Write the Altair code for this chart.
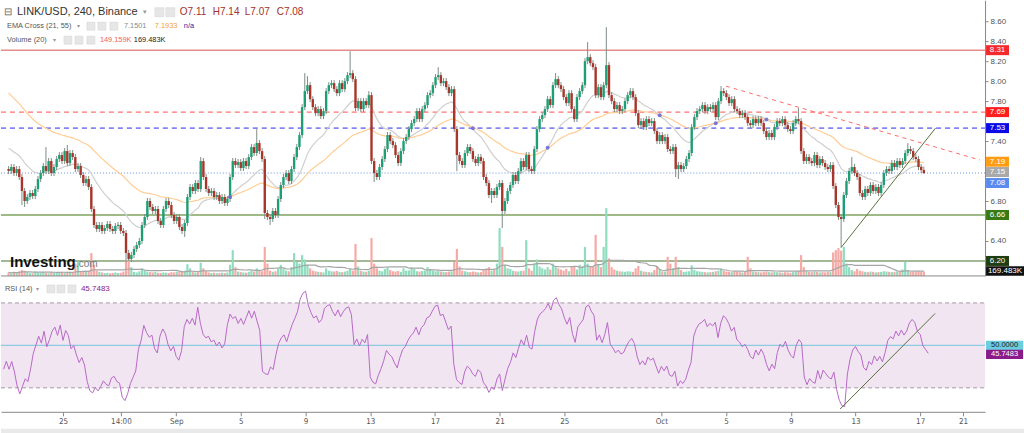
import altair as alt
import pandas as pd

# ---------------- data ----------------
closes = [
 7.10, 7.14, 7.08, 7.12, 7.04, 6.90, 6.80, 6.84, 6.88, 6.85,
 6.92, 7.02, 7.08, 7.15, 7.10, 7.20, 7.08, 7.14, 7.22, 7.26,
 7.20, 7.30, 7.18, 7.28, 7.24, 7.12, 7.15, 7.06, 6.98, 7.02,
 6.94, 6.72, 6.56, 6.52, 6.56, 6.50, 6.53, 6.57, 6.52, 6.50,
 6.55, 6.56, 6.50, 6.48, 6.28, 6.22, 6.26, 6.32, 6.36, 6.40,
 6.56, 6.64, 6.80, 6.74, 6.70, 6.72, 6.60, 6.56, 6.72, 6.80,
 6.76, 6.66, 6.60, 6.64, 6.54, 6.50, 6.58, 6.84, 6.94, 6.90,
 6.98, 6.92, 7.20, 7.04, 6.92, 6.88, 6.90, 6.84, 6.86, 6.80,
 6.84, 6.78, 6.82, 7.04, 7.20, 7.16, 7.19, 7.13, 7.20, 7.15,
 7.24, 7.34, 7.28, 7.38, 7.30, 7.22, 6.68, 6.64, 6.62, 6.70,
 6.66, 6.82, 6.96, 7.04, 7.08, 7.00, 7.12, 7.24, 7.34, 7.46,
 7.74, 7.90, 7.96, 7.82, 7.74, 7.68, 7.72, 7.65, 7.70, 7.90,
 7.96, 7.98, 7.92, 7.88, 7.98, 7.92, 8.00, 8.06, 8.08, 8.02,
 7.73, 7.80, 7.72, 7.80, 7.76, 7.86, 7.20, 7.08, 7.04, 7.14,
 7.22, 7.32, 7.46, 7.40, 7.36, 7.26, 7.18, 7.30, 7.40, 7.44,
 7.52, 7.58, 7.62, 7.70, 7.62, 7.72, 7.76, 7.86, 7.88, 7.96,
 8.04, 8.06, 7.98, 8.00, 7.94, 7.88, 7.92, 7.52, 7.26, 7.20,
 7.16, 7.28, 7.34, 7.30, 7.22, 7.18, 7.24, 7.20, 7.04, 6.98,
 6.86, 6.90, 6.86, 6.94, 6.98, 6.70, 6.80, 6.90, 6.96, 7.06,
 7.00, 7.10, 7.20, 7.14, 7.26, 7.12, 7.10, 7.32, 7.52, 7.62,
 7.66, 7.72, 7.82, 7.76, 7.96, 8.02, 7.96, 7.92, 7.84, 7.78,
 7.88, 7.72, 7.62, 7.84, 7.90, 7.96, 8.20, 8.24, 8.18, 8.14,
 7.86, 7.94, 7.84, 7.96, 8.16, 7.86, 7.80, 7.72, 7.76, 7.70,
 7.72, 7.80, 7.86, 7.90, 7.84, 7.68, 7.56, 7.60, 7.54, 7.62,
 7.58, 7.60, 7.50, 7.40, 7.46, 7.40, 7.44, 7.32, 7.30, 7.34,
 7.12, 7.16, 7.12, 7.15, 7.22, 7.28, 7.54, 7.64, 7.70, 7.72,
 7.76, 7.70, 7.74, 7.72, 7.76, 7.64, 7.80, 7.90, 7.88, 7.84,
 7.78, 7.82, 7.72, 7.70, 7.66, 7.68, 7.64, 7.58, 7.56, 7.62,
 7.58, 7.62, 7.58, 7.50, 7.44, 7.48, 7.44, 7.54, 7.60, 7.58,
 7.62, 7.56, 7.52, 7.50, 7.58, 7.62, 7.60, 7.30, 7.20, 7.24,
 7.20, 7.18, 7.26, 7.16, 7.22, 7.18, 7.14, 7.12, 7.16, 6.95,
 6.76, 6.64, 6.62, 6.86, 7.00, 7.10, 7.14, 7.08, 7.04, 6.88,
 6.84, 6.92, 6.88, 6.96, 6.90, 6.94, 6.88, 6.96, 7.08, 7.12,
 7.10, 7.18, 7.14, 7.20, 7.16, 7.20, 7.28, 7.32, 7.30, 7.24,
 7.22, 7.14, 7.11, 7.08,
]
first_open = 7.12

# notable wick extremes (candle index -> price)
wick_highs = {14: 7.34, 22: 7.36, 72: 7.24, 93: 7.52, 111: 8.08, 112: 8.05, 128: 8.30,
              135: 7.90, 161: 8.14, 205: 8.08, 217: 8.39, 224: 8.54, 267: 7.95, 296: 7.73,
              316: 7.24, 337: 7.38, 343: 7.14}
wick_lows = {5: 6.76, 6: 6.74, 44: 6.19, 45: 6.20, 66: 6.44, 96: 6.62, 98: 6.56, 137: 6.99,
             168: 7.10, 181: 6.78, 185: 6.53, 250: 7.04, 251: 7.02, 312: 6.33, 343: 7.07}
wick_default = 0.03

volumes = [  # thousands
 120, 90, 140, 110, 160, 200, 180, 130, 100, 90, 150, 120, 110, 140, 100, 90, 130, 110, 100, 120,
 140, 110, 100, 130, 120, 420, 470, 150, 160, 180, 170, 780, 380, 180, 140, 120, 100, 110, 90, 100,
 120, 100, 110, 150, 540, 560, 300, 140, 120, 160, 260, 180, 150, 130, 120, 140, 110, 100, 120, 110,
 100, 130, 120, 150, 140, 160, 180, 400, 260, 150, 120, 140, 450, 260, 160, 120, 100, 110, 90, 100,
 110, 100, 120, 380, 880, 300, 150, 130, 120, 110, 140, 180, 150, 260, 200, 160, 990, 420, 180, 140,
 160, 260, 380, 260, 180, 160, 300, 780, 480, 420, 710, 560, 380, 260, 180, 160, 140, 130, 120, 260,
 180, 160, 150, 170, 140, 130, 150, 180, 240, 180, 1090, 320, 180, 150, 140, 180, 1290, 420, 260, 180,
 160, 240, 300, 200, 160, 150, 170, 140, 260, 180, 190, 300, 240, 160, 150, 170, 180, 300, 240, 180,
 160, 170, 150, 140, 130, 150, 160, 480, 920, 320, 180, 160, 140, 130, 150, 140, 120, 130, 200, 260,
 300, 180, 240, 420, 1630, 990, 380, 260, 240, 180, 160, 150, 170, 180, 1220, 260, 180, 420, 560, 320,
 260, 220, 300, 220, 420, 320, 260, 220, 180, 240, 160, 300, 340, 220, 380, 320, 990, 420, 320, 300,
 1400, 380, 300, 990, 2310, 600, 300, 220, 180, 160, 150, 140, 160, 150, 140, 260, 340, 180, 150, 140,
 130, 120, 200, 340, 240, 160, 150, 650, 420, 260, 650, 300, 200, 140, 150, 160, 360, 200, 160, 150,
 140, 130, 120, 130, 140, 160, 180, 260, 170, 150, 140, 130, 150, 140, 130, 120, 140, 650, 260, 150,
 140, 130, 120, 140, 150, 130, 120, 140, 130, 120, 110, 130, 120, 110, 130, 150, 180, 710, 300, 160,
 140, 130, 150, 140, 120, 130, 120, 140, 130, 800, 880, 950, 860, 990, 420, 300, 200, 160, 240, 180,
 160, 140, 130, 150, 140, 120, 130, 140, 160, 150, 140, 130, 140, 150, 160, 220, 480, 200, 150, 140,
 130, 150, 140, 149,
]

# indicator seeds (values at the left edge)
ema21_seed, ema55_seed = 7.35, 7.91
rsi_gain_seed, rsi_loss_seed = 0.020, 0.030

# horizontal levels
level_solid_red = 8.31
level_dash_red = 7.69
level_dash_blue = 7.53
level_last = 7.08
level_green_hi = 6.66
level_green_lo = 6.20
ema_last = [7.1501, 7.1933]
vol_ma_last = 169.483

# trend lines (day offset from Aug 21 00:00, value)
trend_red = [(45.14, 7.95), (61.01, 7.21)]
trend_green = [(52.36, 6.34), (58.23, 7.53)]
trend_rsi = [(52.05, 20.0), (57.92, 65.0)]

tick_days = [4, 7.5833, 11, 15, 19, 23, 27, 31, 35, 41, 45, 49, 53, 57, 59.65]
tick_labels = ['25', '14:00', 'Sep', '5', '9', '13', '17', '21', '25', 'Oct', '5', '9', '13', '17', '21']
price_ticks = [8.6, 8.4, 8.2, 8.0, 7.8, 7.4, 6.8, 6.4]
rsi_ticks = [70, 60, 40, 30, 20]

# ---------------- derived ----------------
N = len(closes)
opens = [first_open] + closes[:-1]
t_last = 57.5
rows = []
e21, e55 = ema21_seed, ema55_seed
g, l = rsi_gain_seed, rsi_loss_seed
prev = first_open
for i in range(N):
    o, c = opens[i], closes[i]
    hi = wick_highs.get(i, max(o, c) + wick_default)
    lo = wick_lows.get(i, min(o, c) - wick_default)
    e21 += (2 / 22) * (c - e21)
    e55 += (2 / 56) * (c - e55)
    ch = c - prev
    g = (g * 13 + max(ch, 0)) / 14
    l = (l * 13 + max(-ch, 0)) / 14
    prev = c
    rsi = 100 - 100 / (1 + g / l) if l > 0 else 100
    rows.append(dict(t=t_last - (N - 1 - i) / 6, o=o, c=c, h=hi, l=lo,
                     blo=min(o, c), bhi=max(max(o, c), min(o, c) + 0.012),
                     up=c >= o, vol=volumes[i], e21=e21, e55=e55, rsi=rsi))
df = pd.DataFrame(rows)
df['volma'] = df['vol'].rolling(20, min_periods=1).mean()
d = df['e21'] - df['e55']
cross = df[(d * d.shift(1)) < 0].copy()
cross['m'] = (cross['e21'] + cross['e55']) / 2

FONT = 'Arial, Liberation Sans, sans-serif'
NARROW = 'Liberation Sans Narrow, DejaVu Sans Condensed, Arial, sans-serif'
W, HP, HR = 985, 276, 131
GREEN, RED = '#1e9e74', '#a8352b'
ONE = pd.DataFrame({'k': [0]})

xs = alt.Scale(domain=[0.17, 61.01], nice=False, zero=False)
ys = alt.Scale(domain=[6.05, 8.81], nice=False, zero=False)
vs = alt.Scale(domain=[0, 9400], nice=False, zero=True)
rs = alt.Scale(domain=[18.7, 80.35], nice=False, zero=False)

label_expr = ' : '.join(f"abs(datum.value - {v}) < 0.01 ? '{s}'" for v, s in zip(tick_days, tick_labels)) + " : ''"
x_axis = alt.Axis(values=tick_days, labelExpr=label_expr, labelFontSize=8, labelColor='#555',
                  labelFont=NARROW, tickSize=4, tickColor='#888', domainColor='#888', grid=False,
                  title=None, labelPadding=2, labelFlush=False, labelOverlap=False)
X = alt.X('t:Q', scale=xs, axis=None)
XR = alt.X('t:Q', scale=xs, axis=x_axis)


def txt(s, x, y, size=8, color='#555', weight='normal', font=FONT):
    return alt.Chart(ONE).mark_text(text=s, align='left', baseline='middle', fontSize=size,
                                    color=color, fontWeight=weight, font=font).encode(
        x=alt.value(x), y=alt.value(y))


def box(x, y, w=8, h=8):
    return alt.Chart(ONE).mark_rect(color='#e6e6e6', stroke='#d2d2d2', strokeWidth=0.5).encode(
        x=alt.value(x), x2=alt.value(x + w), y=alt.value(y - h / 2), y2=alt.value(y + h / 2))


def hline(v, color, scale, dash=None, width=1):
    kw = dict(color=color, strokeWidth=width)
    if dash:
        kw['strokeDash'] = dash
    return alt.Chart(pd.DataFrame({'v': [v]})).mark_rule(**kw).encode(
        y=alt.Y('v:Q', scale=scale, axis=None), x=alt.value(0), x2=alt.value(W))


def badge(v, label, fill, tcolor, scale, half, x1, x2, fs=8, dy=0):
    b = alt.Chart(pd.DataFrame({'v': [v]})).transform_calculate(
        a=f'datum.v + {half}', b=f'datum.v - {half}')
    r = b.mark_rect(color=fill, yOffset=dy, y2Offset=dy).encode(
        x=alt.value(x1), x2=alt.value(x2), y=alt.Y('a:Q', scale=scale, axis=None), y2='b:Q')
    t = b.mark_text(color=tcolor, fontSize=fs, align='center', baseline='middle', font=FONT, dy=dy).encode(
        x=alt.value((x1 + x2) / 2), y=alt.Y('v:Q', scale=scale, axis=None), text=alt.value(label))
    return [r, t]


def seg(points, color, scale, xenc, dash=None, width=1):
    kw = dict(color=color, strokeWidth=width)
    if dash:
        kw['strokeDash'] = dash
    pdf = pd.DataFrame({'t': [p[0] for p in points], 'v': [p[1] for p in points]})
    return alt.Chart(pdf).mark_line(**kw).encode(x=xenc, y=alt.Y('v:Q', scale=scale, axis=None))


base = alt.Chart(df)
upcol = alt.condition('datum.up', alt.value(GREEN), alt.value(RED))

price_axis = alt.Axis(orient='right', values=price_ticks,
                      format='.2f', labelFontSize=8, labelColor='#555', labelFont=FONT, tickSize=3,
                      tickColor='#888', domainColor='#888', grid=False, labelPadding=2, title=None)

vol_bars = base.mark_bar(size=2.2).encode(
    x=X, y=alt.Y('vol:Q', scale=vs, axis=None), y2=alt.datum(0),
    color=alt.condition('datum.up', alt.value('#8fdcbf'), alt.value('#f6aaa6')))
vol_ma = base.mark_line(color='#a5a5a5', strokeWidth=1.2).encode(
    x=X, y=alt.Y('volma:Q', scale=vs, axis=None))
ema21 = base.mark_line(color='#cfcfcf', strokeWidth=1.2).encode(x=X, y=alt.Y('e21:Q', scale=ys, axis=None))
ema55 = base.mark_line(color='#ffcd94', strokeWidth=1.2).encode(x=X, y=alt.Y('e55:Q', scale=ys, axis=None))
wicks = base.mark_rule(strokeWidth=1, color='#7d8c83').encode(
    x=X, y=alt.Y('l:Q', scale=ys, axis=price_axis), y2='h:Q')
bodies = base.mark_bar(size=2.4).encode(
    x=X, y=alt.Y('blo:Q', scale=ys, axis=None), y2='bhi:Q', color=upcol)
crosses = alt.Chart(cross).mark_point(filled=True, size=16, color='#6b6bd6', opacity=0.9).encode(
    x=X, y=alt.Y('m:Q', scale=ys, axis=None))

bx1, bx2 = 986, 1009
price_layers = [
    hline(level_solid_red, '#d9534f', ys),
    hline(level_dash_red, '#ff4a4a', ys, [5, 4]),
    hline(level_dash_blue, '#2828e6', ys, [5, 4]),
    hline(level_last, '#6b8fe6', ys, [1, 2]),
    hline(level_green_hi, '#7ea35e', ys, None, 1.5),
    hline(level_green_lo, '#a3b896', ys, None, 2),
    vol_bars, vol_ma, ema21, ema55, wicks, bodies,
    seg(trend_red, '#ff6b6b', ys, X, [4, 4]),
    seg(trend_green, '#5a703e', ys, X),
    crosses,
    alt.Chart(ONE).mark_rule(color='#8a8a8a', strokeWidth=1).encode(
        x=alt.value(0), x2=alt.value(W), y=alt.value(HP)),
]
price_layers += badge(level_solid_red, '8.31', '#f4292b', 'white', ys, 0.05, bx1, bx2)
price_layers += badge(level_dash_red, '7.69', '#ff1e1e', 'white', ys, 0.05, bx1, bx2)
price_layers += badge(level_dash_blue, '7.53', '#0a0ae6', 'white', ys, 0.05, bx1, bx2)
price_layers += badge(ema_last[1], '7.19', '#ff9c12', 'white', ys, 0.05, bx1, bx2, dy=0)
price_layers += badge(ema_last[0], '7.15', '#a9a9a9', 'white', ys, 0.05, bx1, bx2, dy=6)
price_layers += badge(level_last, '7.08', '#5a8cf0', 'white', ys, 0.05, bx1, bx2, dy=10)
price_layers += badge(level_green_hi, '6.66', '#3a7a14', 'white', ys, 0.05, bx1, bx2)
price_layers += badge(level_green_lo, '6.20', '#213d12', 'white', ys, 0.05, bx1, bx2)
price_layers += badge(vol_ma_last, '169.483K', '#111111', 'white', vs, 160, 986, 1024)
price_layers += [
    txt('⊟', 3, 12, 10, '#666'),
    txt('LINK/USD, 240, Binance', 16, 12, 11, '#333'),
    txt('▾', 142, 12, 7, '#999'),
    box(154, 12, 9, 9), box(165, 12, 9, 9),
    txt('O7.11', 179, 12, 10, '#a3302a'),
    txt('H7.14', 212, 12, 10, '#a3302a'),
    txt('L7.07', 244, 12, 10, '#a3302a'),
    txt('C7.08', 276, 12, 10, '#a3302a'),
    txt('EMA Cross (21, 55)', 6, 26, 7.4, '#555'),
    txt('▾', 76, 26, 6, '#999'),
    box(86, 26), box(97, 26), box(109, 26),
    txt('7.1501', 123, 26, 7.4, '#8a8a8a'),
    txt('7.1933', 154, 26, 7.4, '#f0a030'),
    txt('n/a', 183, 26, 7.4, '#2a2aa0'),
    txt('Volume (20)', 6, 40, 7.4, '#555'),
    txt('▾', 52, 40, 6, '#999'),
    box(63, 40), box(74, 40), box(86, 40),
    txt('149.159K', 99, 40, 7.4, '#f06060'),
    txt('169.483K', 133, 40, 7.4, '#222'),
    txt('Investing', 9, 262, 15, '#111', 'bold'),
    txt('.com', 75, 264, 10, '#777'),
]
price = alt.layer(*price_layers).resolve_scale(y='independent').properties(width=W, height=HP)

# ---------------- RSI pane ----------------
rsi_axis = alt.Axis(orient='right', values=rsi_ticks, format='.4f', labelFontSize=7,
                    labelColor='#555', labelFont=FONT, tickSize=3, tickColor='#888', domainColor='#888',
                    grid=False, labelPadding=2, title=None)

band = alt.Chart(ONE).mark_rect(color='#f2e5f2').encode(
    x=alt.value(0), x2=alt.value(W), y=alt.Y('a:Q', scale=rs, axis=None), y2='b:Q').transform_calculate(a='70', b='30')
rsi_line = base.mark_line(color='#b768c6', strokeWidth=1).encode(
    x=XR, y=alt.Y('rsi:Q', scale=rs, axis=rsi_axis))
rsi_layers = [
    band,
    hline(70, '#a697a6', rs, [4, 3]),
    hline(30, '#a697a6', rs, [4, 3]),
    hline(50, '#8ccbe0', rs, None, 1.2),
    rsi_line,
    seg(trend_rsi, '#55703a', rs, XR),
    alt.Chart(ONE).mark_rect(color='#e9e9e9').encode(
        x=alt.value(0), x2=alt.value(1024), y=alt.value(HR + 17), y2=alt.value(HR + 22)),
]
rsi_layers += badge(50, '50.0000', '#6ccddf', '#1a1a1a', rs, 2.2, 986, 1023, 7.5)
rsi_layers += badge(45.7483, '45.7483', '#8b1a8b', 'white', rs, 2.2, 986, 1023, 7.5)
rsi_layers += [
    txt('RSI (14)', 4, 8, 7.4, '#555'),
    txt('▾', 35, 8, 6, '#999'),
    box(46, 8), box(56, 8), box(67, 8),
    txt('45.7483', 80, 8, 8, '#8b1a8b'),
]
rsi = alt.layer(*rsi_layers).properties(width=W, height=HR)

chart = alt.vconcat(price, rsi, spacing=4).properties(padding=0, background='white').configure_view(stroke=None)
chart.save("out.html", embed_options={"renderer": "svg", "actions": False})
